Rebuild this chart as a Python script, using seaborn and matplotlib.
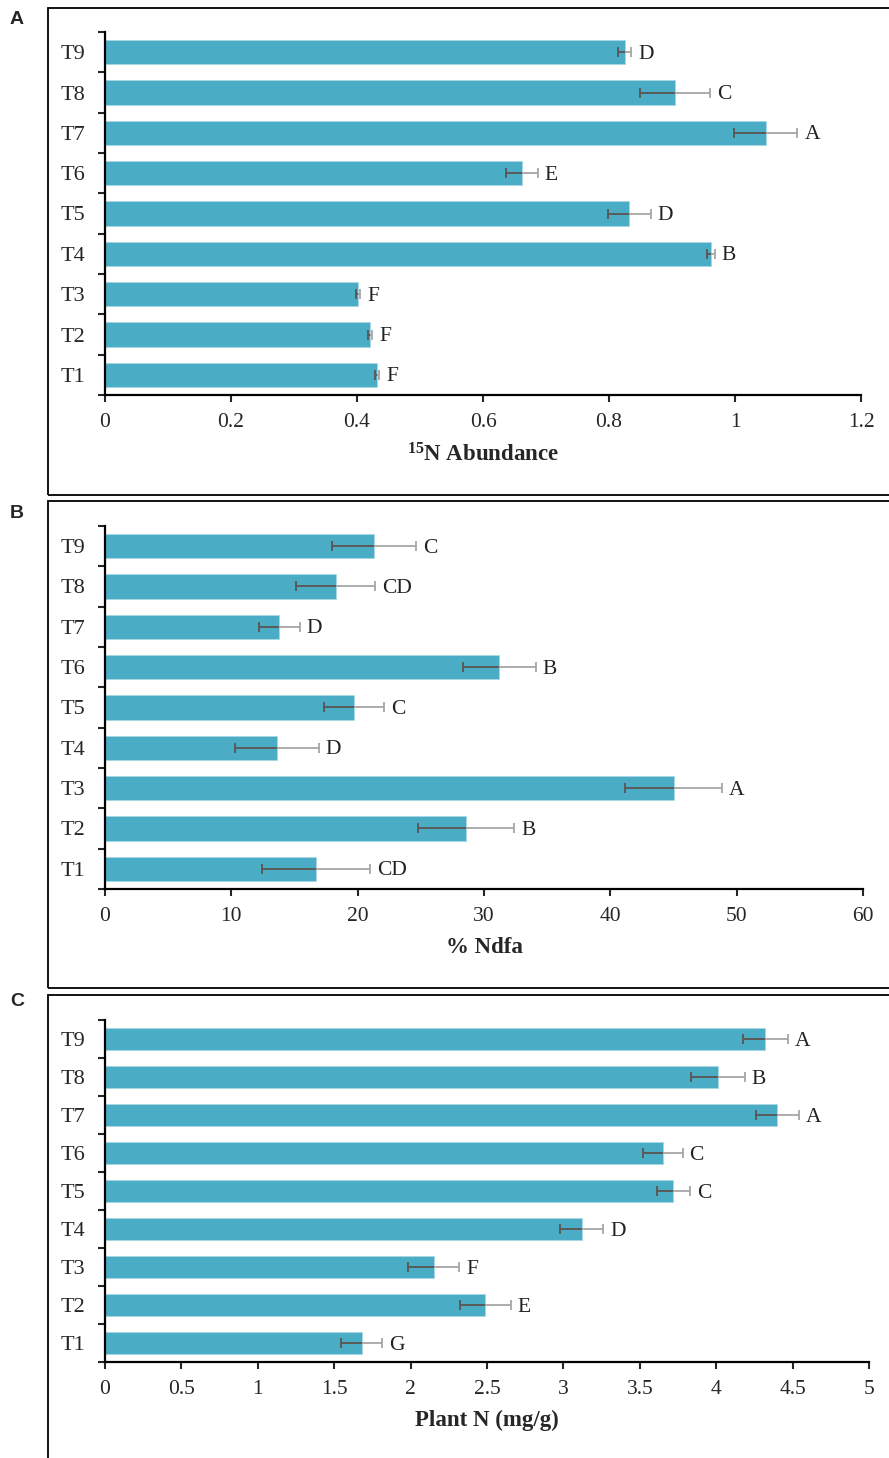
import numpy as np
import pandas as pd
import matplotlib
matplotlib.use('Agg')
import matplotlib.pyplot as plt
import seaborn as sns
from matplotlib.patches import Rectangle
from matplotlib.ticker import FormatStrFormatter, MultipleLocator, FixedLocator

# ---------------- data (T1..T9) ----------------
treatments = ['T1', 'T2', 'T3', 'T4', 'T5', 'T6', 'T7', 'T8', 'T9']

abund = [0.432, 0.421, 0.402, 0.962, 0.832, 0.662, 1.049, 0.905, 0.825]
abund_err = [0.003, 0.003, 0.003, 0.006, 0.034, 0.025, 0.050, 0.056, 0.010]
abund_grp = ['F', 'F', 'F', 'B', 'D', 'E', 'A', 'C', 'D']

ndfa = [16.7, 28.6, 45.0, 13.6, 19.7, 31.2, 13.8, 18.25, 21.3]
ndfa_err = [4.3, 3.8, 3.8, 3.3, 2.4, 2.9, 1.6, 3.1, 3.3]
ndfa_grp = ['CD', 'B', 'A', 'D', 'C', 'B', 'D', 'CD', 'C']

plantn = [1.68, 2.49, 2.15, 3.12, 3.72, 3.65, 4.40, 4.01, 4.32]
plantn_err = [0.134, 0.167, 0.17, 0.14, 0.108, 0.13, 0.14, 0.177, 0.147]
plantn_grp = ['G', 'E', 'F', 'D', 'C', 'C', 'A', 'B', 'A']

sns.set_style('ticks')
plt.rcParams['font.family'] = ['Liberation Serif', 'DejaVu Serif']
plt.rcParams['mathtext.fontset'] = 'custom'
plt.rcParams['mathtext.rm'] = 'Liberation Serif'
plt.rcParams['mathtext.bf'] = 'Liberation Serif:bold'

BAR = '#4BACC6'
DARK = '#595959'
LIGHT = '#A6A6A6'
W, H = 889, 1458

fig = plt.figure(figsize=(W / 100, H / 100), dpi=100)

panels = [
    ('A', abund, abund_err, abund_grp, r'$\mathbf{^{15}}$N Abundance', 1.2, 0.2, (105, 861, 32, 395), 19),
    ('B', ndfa, ndfa_err, ndfa_grp, '% Ndfa', 60, 10, (105, 863, 526, 889), 514),
    ('C', plantn, plantn_err, plantn_grp, 'Plant N (mg/g)', 5, 0.5, (105, 869, 1020, 1362), 1001),
]
boxes = [(48, 8, 495), (48, 501, 988), (48, 995, 1475)]

order = treatments[::-1]

for (letter, vals, errs, grps, xlabel, xmax, step, (x0, x1, y0, y1), ly), (bx, by0, by1) in zip(panels, boxes):
    ax = fig.add_axes([x0 / W, 1 - y1 / H, (x1 - x0) / W, (y1 - y0) / H])
    df = pd.DataFrame({'Treatment': treatments, 'Value': vals})
    sns.barplot(data=df, y='Treatment', x='Value', order=order, color=BAR,
                saturation=1, width=0.6, errorbar=None, edgecolor='#A8D8E4',
                linewidth=0.6, ax=ax)

    v = np.array(vals)
    e = np.array(errs)
    pos = np.array([order.index(t) for t in treatments])
    ax.errorbar(v, pos, xerr=e, fmt='none', ecolor=LIGHT, elinewidth=1.3,
                capsize=3.5, capthick=1.3)
    ax.errorbar(v, pos, xerr=[e, np.zeros_like(e)], fmt='none', ecolor=DARK,
                elinewidth=1.4, capsize=0)
    ax.plot(v - e, pos, ls='none', marker='|', ms=7, mew=1.4, color=DARK)
    for vi, ei, pi, g in zip(v, e, pos, grps):
        ax.annotate(g, (vi + ei, pi), xytext=(5, -1.5), textcoords='offset points',
                    va='center', ha='left', fontsize=15.5, color='#222222')

    ax.set_xlim(0, xmax)
    ax.set_ylim(8.5, -0.5)
    ax.xaxis.set_major_locator(MultipleLocator(step))
    ax.xaxis.set_major_formatter(FormatStrFormatter('%g'))
    ax.yaxis.set_major_locator(FixedLocator(np.arange(-0.5, 9, 1)))
    ax.yaxis.set_minor_locator(FixedLocator(np.arange(0, 9)))
    ax.set_yticklabels([])
    ax.set_yticklabels(order, minor=True)
    ax.tick_params(axis='y', which='major', length=5, width=1.5, direction='out')
    ax.tick_params(axis='y', which='minor', length=0, pad=14, labelsize=16)
    ax.tick_params(axis='x', length=5, width=1.5, direction='out', pad=8,
                   labelsize=15.5)
    sns.despine(ax=ax)
    for s in ('left', 'bottom'):
        ax.spines[s].set_linewidth(1.6)
        ax.spines[s].set_color('black')
    ax.set_ylabel('')
    ax.set_xlabel(xlabel, fontsize=16.5, fontweight='bold', labelpad=8)

    fig.patches.append(Rectangle((bx / W, 1 - by1 / H), (W + 20 - bx) / W, (by1 - by0) / H,
                                 transform=fig.transFigure, fill=False,
                                 edgecolor='black', linewidth=1.3))
    fig.text(17 / W, 1 - ly / H, letter, ha='center', va='center',
             fontsize=14, fontweight='bold', family='Liberation Sans')

fig.savefig('out.png', dpi=100)
